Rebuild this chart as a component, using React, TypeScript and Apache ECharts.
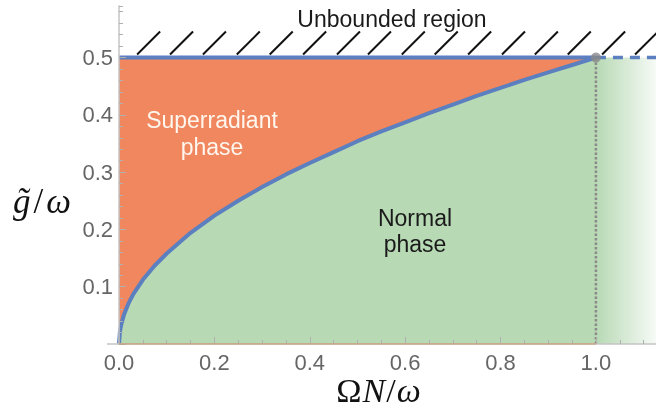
import React, { useEffect, useRef } from "react";
import * as echarts from "echarts";

// Phase boundary: (ΩN/ω, g̃/ω)
const boundaryX = [0, 0.002, 0.005, 0.01, 0.02, 0.03, 0.05, 0.075, 0.1, 0.15, 0.2, 0.25, 0.3, 0.35, 0.4, 0.45, 0.5, 0.55, 0.6, 0.65, 0.7, 0.75, 0.8, 0.85, 0.9, 0.95, 1.0];
const boundaryG = [0, 0.022, 0.035, 0.05, 0.071, 0.087, 0.112, 0.137, 0.158, 0.194, 0.224, 0.25, 0.274, 0.296, 0.316, 0.335, 0.354, 0.371, 0.387, 0.403, 0.418, 0.433, 0.447, 0.461, 0.474, 0.487, 0.5];

const gMax = 0.5;
const criticalX = 1.0;
const xMin = 0;
const xMax = 1.126;
const yMin = 0;
const yMax = 0.59;

// hatch marks above the unbounded line
const hatchX = [0.038, 0.107, 0.176, 0.247, 0.316, 0.386, 0.457, 0.522, 0.593, 0.662, 0.732, 0.803, 0.872, 0.941, 1.013, 1.082];

const ORANGE = "#f0875f";
const GREEN = "#b7d9b4";
const BLUE = "#5b7fbf";
const GREY = "#8a8a8a";
const LABEL = "#666666";

export default function App() {
  const ref = useRef<HTMLDivElement>(null);
  useEffect(() => {
    if (!ref.current) return;
    const chart = echarts.init(ref.current, undefined, { renderer: "svg" });
    const curve = boundaryX.map((x, i) => [x, boundaryG[i]]);
    const axisCommon = {
      type: "value" as const,
      splitLine: { show: false },
    };
    chart.setOption({
      animation: false,
      grid: { left: 119, right: 0, top: 6, bottom: 66, containLabel: false, outerBoundsMode: "none" },
      xAxis: [
        {
          ...axisCommon,
          min: xMin,
          max: xMax,
          interval: 0.2,
          axisLine: { show: true, lineStyle: { color: "#c4c4c4", width: 1.5 } },
          axisTick: { show: true, inside: true, length: 7, lineStyle: { color: "#b0b0b0", width: 1 } },
          axisLabel: {
            show: true,
            margin: 10,
            color: LABEL,
            fontSize: 22,
            lineHeight: 16,
            fontFamily: "Liberation Sans",
            showMaxLabel: false,
            formatter: (v: number) => (v > 1.05 ? "" : v.toFixed(1)),
          },
          z: 20,
        },
        {
          ...axisCommon,
          min: xMin,
          max: xMax,
          interval: 0.05,
          position: "bottom",
          axisLine: { show: false },
          axisTick: { show: true, inside: true, length: 4, lineStyle: { color: "#b0b0b0", width: 1 } },
          axisLabel: { show: false },
          z: 20,
        },
      ],
      yAxis: [
        {
          ...axisCommon,
          min: yMin,
          max: yMax,
          interval: 0.1,
          axisLine: { show: true, lineStyle: { color: "#c4c4c4", width: 1.5 } },
          axisTick: { show: true, inside: true, length: 7, lineStyle: { color: "#b0b0b0", width: 1 } },
          axisLabel: {
            show: true,
            margin: 6,
            color: LABEL,
            fontSize: 22,
            fontFamily: "Liberation Sans",
            showMaxLabel: false,
            formatter: (v: number) => (v === 0 || v > 0.55 ? "" : v.toFixed(1)),
          },
          z: 20,
        },
        {
          ...axisCommon,
          min: yMin,
          max: yMax,
          interval: 0.02,
          position: "left",
          axisLine: { show: false },
          axisTick: { show: true, inside: true, length: 4, lineStyle: { color: "#b0b0b0", width: 1 } },
          axisLabel: { show: false },
          z: 20,
        },
      ],
      series: [
        {
          name: "superradiant",
          type: "line",
          data: [[xMin, gMax], [criticalX, gMax]],
          symbol: "none",
          lineStyle: { width: 0 },
          areaStyle: { color: ORANGE, opacity: 1 },
          z: 1,
        },
        {
          name: "normal-fade",
          type: "line",
          data: [[criticalX, gMax], [xMax, gMax]],
          symbol: "none",
          lineStyle: { width: 0 },
          areaStyle: {
            opacity: 1,
            color: new echarts.graphic.LinearGradient(0, 0, 1, 0, [
              { offset: 0, color: GREEN },
              { offset: 1, color: "rgba(183,217,180,0.12)" },
            ]),
          },
          z: 1,
        },
        {
          name: "normal",
          type: "line",
          data: curve,
          symbol: "none",
          smooth: false,
          lineStyle: { color: BLUE, width: 4 },
          areaStyle: { color: GREEN, opacity: 1 },
          z: 3,
        },
        {
          name: "base-edge",
          type: "line",
          data: [[xMin, 0], [criticalX, 0]],
          symbol: "none",
          lineStyle: { color: "#c9a27c", width: 1.5 },
          z: 21,
        },
        {
          name: "bound",
          type: "line",
          data: [[xMin, gMax], [criticalX, gMax]],
          symbol: "none",
          lineStyle: { color: BLUE, width: 4 },
          z: 4,
        },
        {
          name: "bound-dashed",
          type: "line",
          data: [[criticalX, gMax], [xMax, gMax]],
          symbol: "none",
          lineStyle: { color: BLUE, width: 3.5, type: [10, 7] },
          z: 4,
        },
        {
          name: "critical",
          type: "line",
          data: [[criticalX, 0], [criticalX, gMax]],
          symbol: "none",
          lineStyle: { color: GREY, width: 2.5, type: [2.5, 2] },
          z: 4,
        },
        {
          name: "point",
          type: "scatter",
          data: [[criticalX, gMax]],
          symbolSize: 10,
          itemStyle: { color: GREY },
          z: 6,
        },
        {
          name: "hatch",
          type: "custom",
          data: hatchX.map((x) => [x, gMax]),
          clip: false,
          z: 6,
          renderItem: (params: any, api: any) => {
            const p = api.coord([api.value(0), api.value(1)]);
            return {
              type: "line",
              shape: { x1: p[0], y1: p[1] - 3, x2: p[0] + 23, y2: p[1] - 26 },
              style: { stroke: "#111", lineWidth: 2 },
            };
          },
        },
      ],
      graphic: [
        {
          type: "line",
          z: 20,
          shape: { x1: 107, y1: 344, x2: 120, y2: 344 },
          style: { stroke: "#c4c4c4", lineWidth: 1.5 },
        },
        {
          type: "text",
          z: 50,
          style: {
            text: "Unbounded region",
            x: 392,
            y: 19,
            align: "center",
            verticalAlign: "middle",
            fill: "#1a1a1a",
            fontSize: 23,
            fontFamily: "Liberation Sans",
          },
        },
        {
          type: "text",
          z: 50,
          style: {
            text: "Superradiant\nphase",
            x: 212,
            y: 133,
            align: "center",
            verticalAlign: "middle",
            lineHeight: 27,
            fill: "#fff6ee",
            fontSize: 23,
            fontFamily: "Liberation Sans",
          },
        },
        {
          type: "text",
          z: 50,
          style: {
            text: "Normal\nphase",
            x: 415,
            y: 231,
            align: "center",
            verticalAlign: "middle",
            lineHeight: 26,
            fill: "#1a1a1a",
            fontSize: 23,
            fontFamily: "Liberation Sans",
          },
        },
        {
          type: "text",
          z: 50,
          style: {
            text: "{i|g\u0303}{n|/}{i|ω}",
            x: 13,
            y: 201,
            align: "left",
            verticalAlign: "middle",
            fill: "#111",
            fontSize: 35,
            fontFamily: "Liberation Serif",
            rich: {
              i: { fontStyle: "italic", fontSize: 35, fontFamily: "Liberation Serif", fill: "#111" },
              n: { fontSize: 35, fontFamily: "Liberation Serif", fill: "#111", padding: [0, 3, 0, 3] },
            },
          },
        },
        {
          type: "text",
          z: 50,
          style: {
            text: "{n|Ω}{i|N}{n|/}{i|ω}",
            x: 378,
            y: 390,
            align: "center",
            verticalAlign: "middle",
            fill: "#111",
            fontSize: 34,
            lineHeight: 24,
            fontFamily: "Liberation Serif",
            rich: {
              i: { fontStyle: "italic", fontSize: 34, lineHeight: 24, fontFamily: "Liberation Serif", fill: "#111" },
              n: { fontSize: 34, lineHeight: 24, fontFamily: "Liberation Serif", fill: "#111", padding: [0, 1, 0, 1] },
            },
          },
        },
      ],
    });
    return () => chart.dispose();
  }, []);
  return <div ref={ref} style={{ position: "fixed", left: 0, top: 0, width: 656, height: 410 }} />;
}
